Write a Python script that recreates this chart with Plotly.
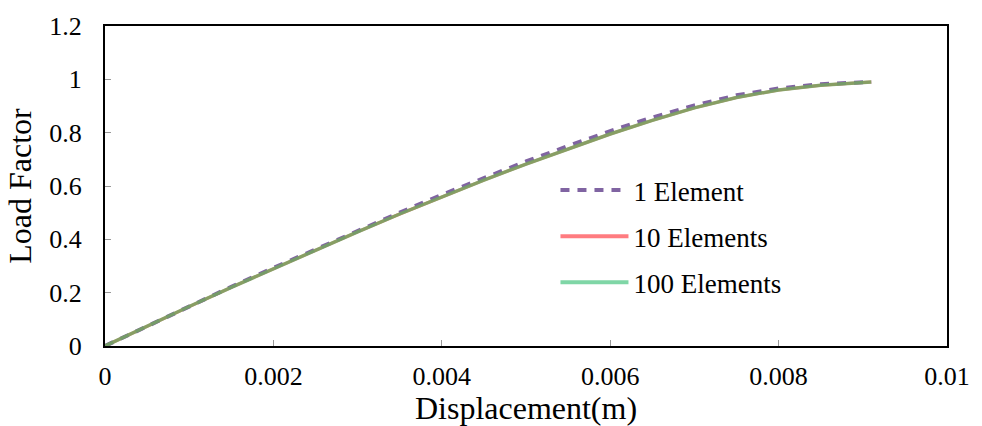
import plotly.graph_objects as go

# Data
disp = [0, 0.0005, 0.001, 0.0015, 0.002, 0.0025, 0.003, 0.0035, 0.004, 0.0045,
        0.005, 0.0055, 0.006, 0.0065, 0.007, 0.0075, 0.008, 0.0085, 0.0091]
lf_1 = [0, 0.075, 0.149, 0.222, 0.293, 0.363, 0.432, 0.500, 0.567, 0.630,
        0.692, 0.750, 0.806, 0.857, 0.902, 0.940, 0.966, 0.982, 0.990]
lf_10 = [0, 0.075, 0.148, 0.220, 0.290, 0.360, 0.428, 0.495, 0.560, 0.622,
         0.682, 0.740, 0.795, 0.846, 0.893, 0.932, 0.960, 0.978, 0.990]
lf_100 = [0, 0.075, 0.148, 0.220, 0.290, 0.360, 0.428, 0.495, 0.560, 0.622,
          0.682, 0.740, 0.795, 0.846, 0.893, 0.932, 0.960, 0.978, 0.990]

names = ["1 Element", "10 Elements", "100 Elements"]
x_ticks = [0, 0.002, 0.004, 0.006, 0.008, 0.01]
x_labels = ["0", "0.002", "0.004", "0.006", "0.008", "0.01"]
y_ticks = [0, 0.2, 0.4, 0.6, 0.8, 1.0, 1.2]
y_labels = ["0", "0.2", "0.4", "0.6", "0.8", "1", "1.2"]

PURPLE = "#8064A2"
RED = "#FF7C80"
GREEN = "#7FD6A6"
FONT = "Liberation Serif, Times New Roman, serif"

fig = go.Figure()
# drawn curves (no legend)
fig.add_trace(go.Scatter(x=disp, y=lf_10, mode="lines", showlegend=False,
                         line=dict(color=RED, width=3)))
fig.add_trace(go.Scatter(x=disp, y=lf_1, mode="lines", showlegend=False,
                         line=dict(color=PURPLE, width=4, dash="9px,8px")))
fig.add_trace(go.Scatter(x=disp, y=lf_100, mode="lines", showlegend=False,
                         line=dict(color="rgba(115,165,95,0.85)", width=3.5)))
# legend entries
fig.add_trace(go.Scatter(x=[None], y=[None], mode="lines", name=names[0], legendgroup="a",
                         line=dict(color=PURPLE, width=4, dash="9px,8px")))
fig.add_trace(go.Scatter(x=[None], y=[None], mode="lines", name=names[1], legendgroup="b",
                         line=dict(color=RED, width=4)))
fig.add_trace(go.Scatter(x=[None], y=[None], mode="lines", name=names[2], legendgroup="c",
                         line=dict(color=GREEN, width=4)))
# helper trace to activate the overlay axis carrying the inside ticks
fig.add_trace(go.Scatter(x=[None], y=[None], yaxis="y2", showlegend=False, hoverinfo="skip"))

fig.update_layout(
    width=982, height=426,
    margin=dict(l=105, r=27, t=21, b=80),
    paper_bgcolor="white", plot_bgcolor="white",
    font=dict(family=FONT, size=26, color="black"),
    showlegend=True,
    legend=dict(x=0.535, y=0.342, xanchor="left", yanchor="middle",
                bgcolor="rgba(0,0,0,0)", font=dict(size=27, family=FONT),
                tracegroupgap=8, itemwidth=68),
    xaxis=dict(range=[0, 0.01], tickvals=x_ticks, ticktext=x_labels,
               showgrid=False, zeroline=False, showline=True, linecolor="black",
               linewidth=2, mirror=True, ticks="inside", ticklen=6, tickcolor="#999",
               tickfont=dict(size=26, family=FONT), ticklabelstandoff=6,
               title=dict(text="Displacement(m)", font=dict(size=32, family=FONT), standoff=0)),
    yaxis=dict(range=[0, 1.2], tickvals=y_ticks, ticktext=y_labels,
               showgrid=False, zeroline=False, showline=True, linecolor="black",
               linewidth=2, mirror=True, ticks="outside", ticklen=16,
               tickcolor="rgba(0,0,0,0)",
               tickfont=dict(size=26, family=FONT),
               title=dict(text="Load Factor", font=dict(size=32, family=FONT), standoff=8)),
    yaxis2=dict(range=[0, 1.2], tickvals=y_ticks, overlaying="y", side="left",
                showgrid=False, zeroline=False, showline=False, showticklabels=False,
                ticks="inside", ticklen=6, tickcolor="#999"),
)

fig.write_html("out.html")
